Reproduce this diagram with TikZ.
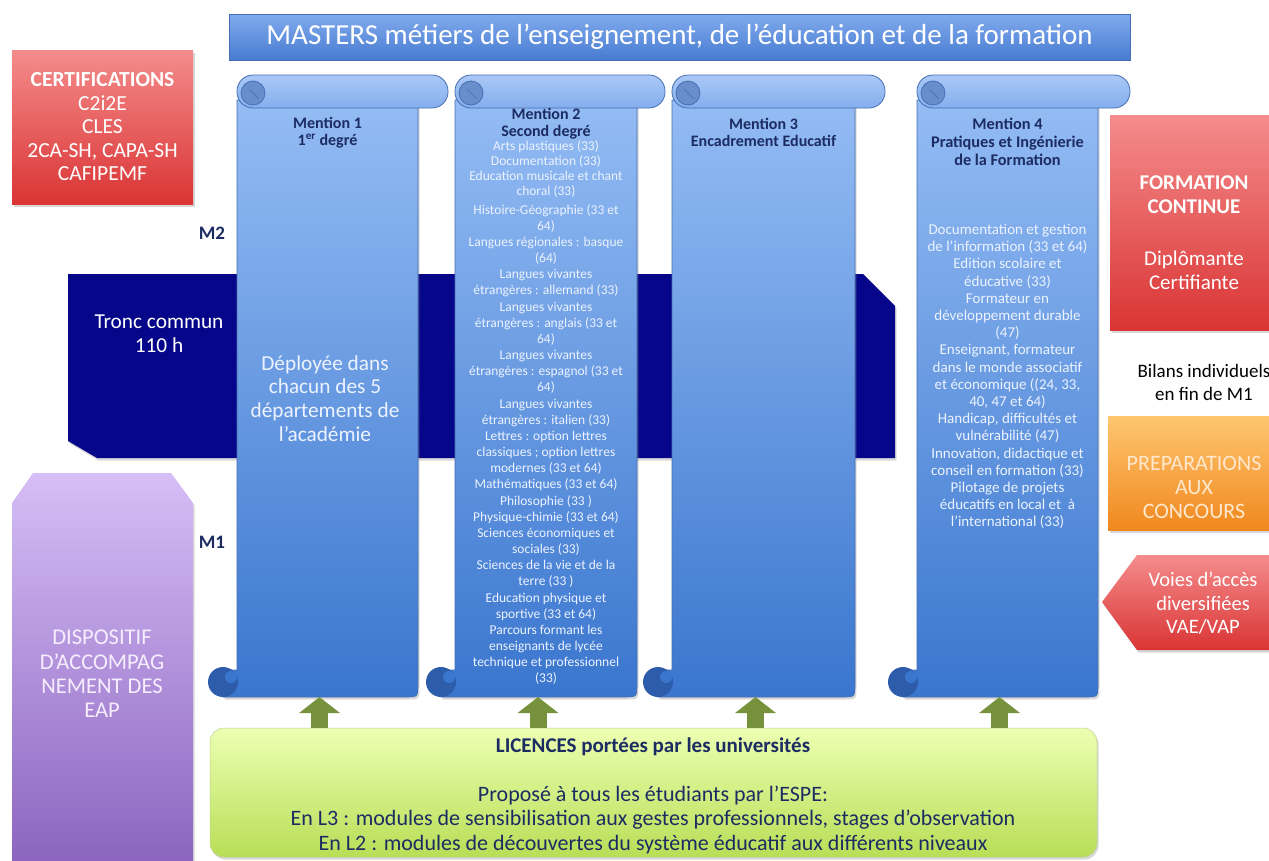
\documentclass[tikz,border=0pt]{standalone}
\usepackage{fontspec}
\setmainfont{Carlito}
\usetikzlibrary{arrows.meta,shadows}
\definecolor{navyband}{RGB}{6,6,138}
\definecolor{darktxt}{RGB}{28,44,98}
\definecolor{arrowgreen}{RGB}{118,146,60}
\definecolor{scrolltop}{RGB}{148,188,244}
\definecolor{scrollbot}{RGB}{58,118,206}
\definecolor{scrolledge}{RGB}{70,110,180}
\definecolor{rolltop}{RGB}{170,200,246}
\definecolor{rollbot}{RGB}{132,174,238}
\definecolor{curlfill}{RGB}{104,142,204}
\definecolor{curldark}{RGB}{44,92,170}
\definecolor{redtop}{RGB}{245,140,140}
\definecolor{redbot}{RGB}{218,52,52}
\definecolor{orangetop}{RGB}{255,198,112}
\definecolor{orangebot}{RGB}{240,136,30}
\definecolor{orangetxt}{RGB}{255,232,205}
\definecolor{purpletop}{RGB}{214,190,246}
\definecolor{purplebot}{RGB}{138,98,190}
\definecolor{purpletxt}{RGB}{246,238,255}
\definecolor{greentop}{RGB}{236,255,178}
\definecolor{greenbot}{RGB}{184,222,86}
\definecolor{titletop}{RGB}{128,170,236}
\definecolor{titlebot}{RGB}{72,124,210}
\definecolor{listtxt}{RGB}{236,243,255}
\newcommand{\fsz}[2]{\fontsize{#1}{#2}\selectfont}
\newcommand{\myscroll}[3]{%
  \path[scrollbody] (#1,100) -- (#2,100) -- (#2,684) .. controls (#2,697) .. ({#2-13},697)
     -- ({#1-14},697) -- ({#1-14},670) -- (#1,670) -- cycle;
  \path[scrollroll] (#1,75) rectangle (#3,108);
  \path[curltop] ({#1+16},93) circle (12);
  \draw[scrolledge, line width=0.6] ({#1+12},89) -- ({#1+22},99);
  \path[curlbot] ({#1-14},682) circle (15);
  \fill[scrollbot] ({#1-6},677) circle (6);
}
\begin{document}
\begin{tikzpicture}[x=1pt,y=-1pt,
  every node/.style={inner sep=0pt, outer sep=0pt},
  shadowed/.style={drop shadow={opacity=0.3, shadow xshift=1.5pt, shadow yshift=-2.5pt}},
  titlebar/.style={top color=titletop, bottom color=titlebot, draw=scrolledge, line width=0.8, text=white, font=\fsz{29}{34}},
  redbox/.style={shadowed, top color=redtop, bottom color=redbot, text=white, align=center},
  orangebox/.style={shadowed, top color=orangetop, bottom color=orangebot},
  redshape/.style={shadowed, top color=redtop, bottom color=redbot},
  purpleshape/.style={shadowed, top color=purpletop, bottom color=purplebot},
  navyshape/.style={fill=navyband, shadowed},
  scrollbody/.style={shadowed, top color=scrolltop, bottom color=scrollbot, draw=scrolledge, line width=0.6},
  scrollroll/.style={rounded corners=16, top color=rolltop, bottom color=rollbot, draw=scrolledge, line width=0.8},
  curltop/.style={fill=curlfill, draw=scrolledge, line width=0.8},
  curlbot/.style={fill=curldark},
  greenbox/.style={shadowed, rounded corners=14, top color=greentop, bottom color=greenbot, draw=greenbot!80!black!60, line width=0.5},
  mention/.style={align=center, text=darktxt, font=\bfseries\fsz{16}{17}},
  whitetxt/.style={align=center, text=white},
  listtwo/.style={align=center, text=listtxt, font=\fsz{13.5}{16.17}},
  listfour/.style={align=center, text=listtxt, font=\fsz{15}{17.2}},
  mlabel/.style={text=darktxt, font=\bfseries\fsz{19}{22}},
  anchorbox/.style={minimum width=#1, minimum height=622pt},
  bigarrow/.style={draw=arrowgreen, line width=17pt, -{Triangle[length=16pt, width=40pt]}},
  greentxt/.style={align=center, text=darktxt, font=\fsz{22}{24.5}}
]
\fill[white] (0,0) rectangle (1269,860);
\useasboundingbox (0,0) rectangle (1269,860);

% title
\node[titlebar, minimum width=901pt, minimum height=46pt] (title) at (679.5,37)
  {MASTERS métiers de l’enseignement, de l’éducation et de la formation};

% left column
\node[redbox, minimum width=181pt, minimum height=154pt, font=\fsz{21.5}{23.5}] (cert) at (102.5,127)
  {\textbf{CERTIFICATIONS}\\C2i2E\\CLES\\2CA-SH, CAPA-SH\\CAFIPEMF};
\path[purpleshape] (12,503) -- (33,473) -- (171,473) -- (193,503) -- (193,875) -- (12,875) -- cycle;
\node[align=center, text=purpletxt, font=\fsz{22.5}{24.3}] (eap) at (102,674)
  {DISPOSITIF\\D’ACCOMPAG\\NEMENT DES\\EAP};

% right column
\node[redbox, minimum width=164pt, minimum height=215pt] (fc) at (1192,222.5) {};
\node[whitetxt, font=\fsz{21}{24}] (fct) at (1194,233)
  {\textbf{FORMATION}\\\textbf{CONTINUE}\\[28pt]Diplômante\\Certifiante};
\node[align=center, text=black, font=\fsz{19}{23}] (bilans) at (1204,382)
  {Bilans individuels\\en fin de M1};
\node[orangebox, minimum width=164pt, minimum height=114pt] (prep) at (1190,473) {};
\node[align=center, text=orangetxt, font=\fsz{22}{24}] (prept) at (1194,487)
  {PREPARATIONS\\AUX\\CONCOURS};
\path[redshape] (1280,555) -- (1137,555) -- (1102,602) -- (1137,650) -- (1280,650) -- cycle;
\node[whitetxt, font=\fsz{20.5}{23.5}] (voies) at (1203,603.5)
  {Voies d’accès\\diversifiées\\VAE/VAP};

% tronc commun band
\path[navyshape] (68,274) -- (863,274) -- (895,306) -- (895,458) -- (97,458) -- (68,441) -- cycle;
\node[whitetxt, font=\fsz{21.3}{24}] (tronc) at (159,334) {Tronc commun\\110 h};

\node[mlabel] (m2) at (212,233) {M2};
\node[mlabel] (m1) at (212,542) {M1};

% scrolls
\myscroll{237}{418}{448}
\myscroll{455}{637}{665}
\myscroll{672}{855}{885}
\myscroll{917}{1098}{1130}
\node[anchorbox=197pt] (s1) at (319.5,386) {};
\node[anchorbox=198pt] (s2) at (538,386) {};
\node[anchorbox=199pt] (s3) at (755.5,386) {};
\node[anchorbox=197pt] (s4) at (999.5,386) {};

\node[mention] (h1) at (327.5,132.5) {Mention 1\\1\textsuperscript{er} degré};
\node[align=center, text=listtxt, font=\fsz{21.3}{23.7}] (d1) at (325,398.5)
  {Déployée dans\\chacun des 5\\départements de\\l’académie};

\node[mention] (h2) at (546,123.5) {Mention 2\\Second degré};
\node[listtwo, font=\fsz{13.5}{14.7}] (l2a) at (546,169)
  {Arts plastiques (33)\\Documentation (33)\\Education musicale et chant\\choral (33)};
\node[listtwo] (l2b) at (546,444.5)
  {Histoire-Géographie (33 et\\64)\\Langues régionales : basque\\(64)\\Langues vivantes\\étrangères : allemand (33)\\Langues vivantes\\étrangères : anglais (33 et\\64)\\Langues vivantes\\étrangères : espagnol (33 et\\64)\\Langues vivantes\\étrangères : italien (33)\\Lettres : option lettres\\classiques ; option lettres\\modernes (33 et 64)\\Mathématiques (33 et 64)\\Philosophie (33 )\\Physique-chimie (33 et 64)\\Sciences économiques et\\sociales (33)\\Sciences de la vie et de la\\terre (33 )\\Education physique et\\sportive (33 et 64)\\Parcours formant les\\enseignants de lycée\\technique et professionnel\\(33)};

\node[mention] (h3) at (763.5,132.5) {Mention 3\\Encadrement Educatif};

\node[mention, font=\bfseries\fsz{16.3}{18}] (h4) at (1007.5,142)
  {Mention 4\\Pratiques et Ingénierie\\de la Formation};
\node[listfour] (l4) at (1007.5,376.5)
  {Documentation et gestion\\de l’information (33 et 64)\\Edition scolaire et\\éducative (33)\\Formateur en\\développement durable\\(47)\\Enseignant, formateur\\dans le monde associatif\\et économique ((24, 33,\\40, 47 et 64)\\Handicap, difficultés et\\vulnérabilité (47)\\Innovation, didactique et\\conseil en formation (33)\\Pilotage de projets\\éducatifs en local et~ à\\l’international (33)};

% licences box
\node[greenbox, minimum width=887pt, minimum height=129pt] (lic) at (653.5,792.5) {};
\draw[bigarrow] (lic.north -| s1.south) -- (s1.south);
\draw[bigarrow] (lic.north -| s2.south) -- (s2.south);
\draw[bigarrow] (lic.north -| s3.south) -- (s3.south);
\draw[bigarrow] (lic.north -| s4.south) -- (s4.south);
\node[greentxt, font=\bfseries\fsz{21}{24.5}] (lict) at (653,747) {LICENCES portées par les universités};
\node[greentxt] (prop) at (653,796) {Proposé à tous les étudiants par l’ESPE:};
\node[greentxt] (lvl) at (653,832)
  {En L3 : modules de sensibilisation aux gestes professionnels, stages d’observation\\En L2 : modules de découvertes du système éducatif aux différents niveaux};
\end{tikzpicture}
\end{document}
